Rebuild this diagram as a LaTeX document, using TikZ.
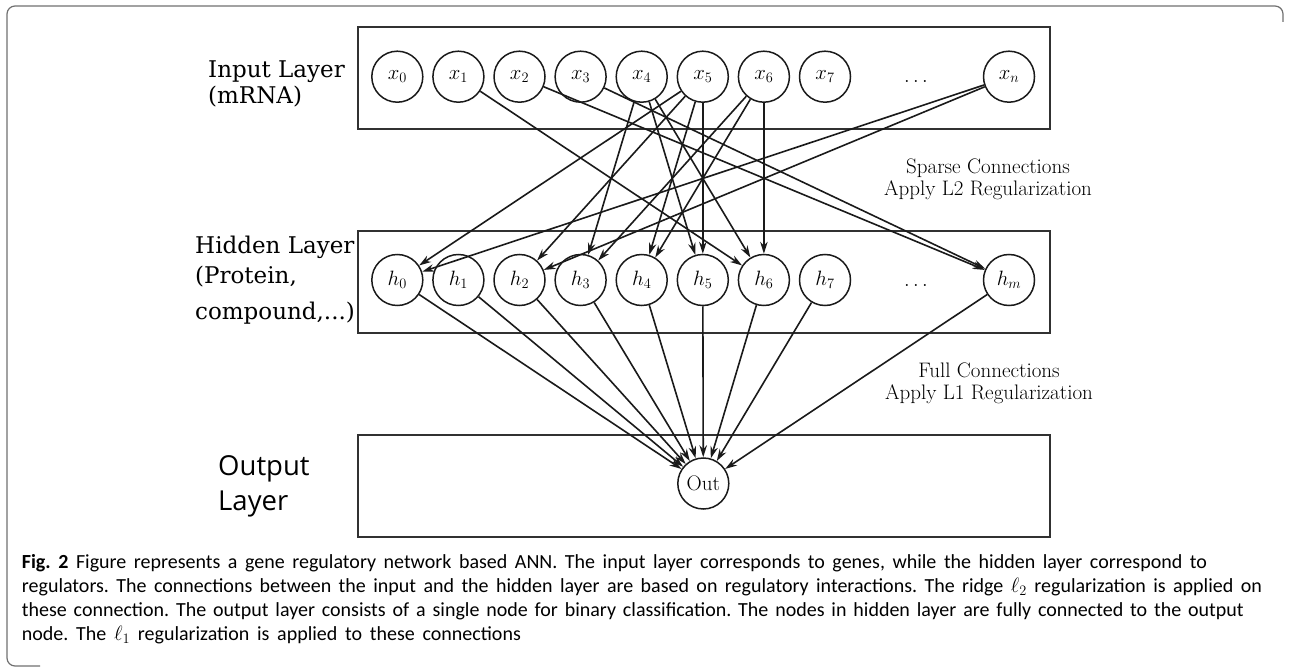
\documentclass[tikz,border=0pt]{standalone}
\usepackage{fontspec}
\newfontfamily\labfont{DejaVu Serif}
\newfontfamily\outfont{Open Sans}
\newfontfamily\capfont{Carlito}
\usetikzlibrary{arrows.meta}
\definecolor{ink}{HTML}{1A1A1A}
\definecolor{framec}{HTML}{707070}
\begin{document}
\begin{tikzpicture}[x=1pt,y=-1pt,
  neuron/.style={circle,draw=ink,line width=1.5pt,minimum size=51pt,inner sep=0pt,font=\fontsize{21}{22}\selectfont},
  layerbox/.style={draw=ink!90,line width=1.7pt,minimum width=692pt,minimum height=102pt,anchor=north west,inner sep=0pt},
  conn/.style={draw=ink,line width=1.6pt,-{Stealth[length=12pt,width=7.5pt]}},
  cmtext/.style={font=\fontsize{21}{22}\selectfont,anchor=base,inner sep=0pt},
  laytext/.style={font=\labfont\fontsize{23}{26}\selectfont,anchor=base west,inner sep=0pt},
  outtext/.style={font=\outfont\fontsize{27.5}{30}\selectfont,anchor=base west,inner sep=0pt},
  captext/.style={font=\capfont\fontsize{20}{24}\selectfont\frenchspacing,anchor=base west,inner sep=0pt}]
\useasboundingbox (0,0) rectangle (1289,668);
% frame
\draw[framec,line width=1.2pt,rounded corners=8pt] (1283,22) -- (1283,6) -- (7,6) -- (7,666) -- (40,666);
% layer boxes
\node[layerbox] (inbox) at (357,26) {};
\node[layerbox] (hidbox) at (357,230) {};
\node[layerbox] (outbox) at (357,434) {};
% input neurons
\foreach \i in {0,...,7}{
  \node[neuron] (x\i) at ({397.3+61.1*\i},76.7) {$x_{\i}$};
}
\node[cmtext] (xdots) at (916,83) {$\ldots$};
\node[neuron] (xn) at (1009,76.7) {$x_n$};
% hidden neurons
\foreach \i in {0,...,7}{
  \node[neuron] (h\i) at ({397.3+61.1*\i},280) {$h_{\i}$};
}
\node[cmtext] (hdots) at (916,286) {$\ldots$};
\node[neuron] (hm) at (1009,280) {$h_m$};
% output neuron
\node[neuron] (out) at (703.3,483.5) {Out};
% layer labels
\node[laytext] (il1) at (208,77.5) {Input Layer};
\node[laytext] (il2) at (208,103.5) {(mRNA)};
\node[laytext] (hl1) at (195,253.5) {Hidden Layer};
\node[laytext] (hl2) at (195,283.5) {(Protein,};
\node[laytext] (hl3) at (195,319) {compound,...)};
\node[outtext] (ol1) at (218,475) {Output};
\node[outtext] (ol2) at (218,510.5) {Layer};
% connection labels
\node[cmtext] (sp1) at (988,173.5) {Sparse Connections};
\node[cmtext] (sp2) at (988,195.5) {Apply L2 Regularization};
\node[cmtext] (fc1) at (989,377) {Full Connections};
\node[cmtext] (fc2) at (989,399) {Apply L1 Regularization};
% sparse connections
\foreach \a/\b in {x1/h6,x2/hm,x3/hm,x4/h3,x4/h5,x4/h6,x5/h0,x5/h2,x5/h4,x5/h5,x6/h3,x6/h4,x6/h6,xn/h0,xn/h2}{
  \draw[conn] (\a) -- (\b);
}
% full connections
\foreach \a in {h0,h1,h2,h3,h4,h5,h6,h7,hm}{
  \draw[conn] (\a) -- (out);
}
% caption
\node[captext] (c1) at (21.7,568) {\makebox[1185pt][s]{\textbf{Fig. 2} Figure represents a gene regulatory network based ANN. The input layer corresponds to genes, while the hidden layer correspond to}};
\node[captext] (c2) at (21.7,592) {\makebox[1240pt][s]{regulators. The connections between the input and the hidden layer are based on regulatory interactions. The ridge $\ell_2$ regularization is applied on}};
\node[captext] (c3) at (21.7,616) {\makebox[1222pt][s]{these connection. The output layer consists of a single node for binary classification. The nodes in hidden layer are fully connected to the output}};
\node[captext] (c4) at (21.7,640) {\makebox[499pt][s]{node. The $\ell_1$ regularization is applied to these connections}};
\end{tikzpicture}
\end{document}
